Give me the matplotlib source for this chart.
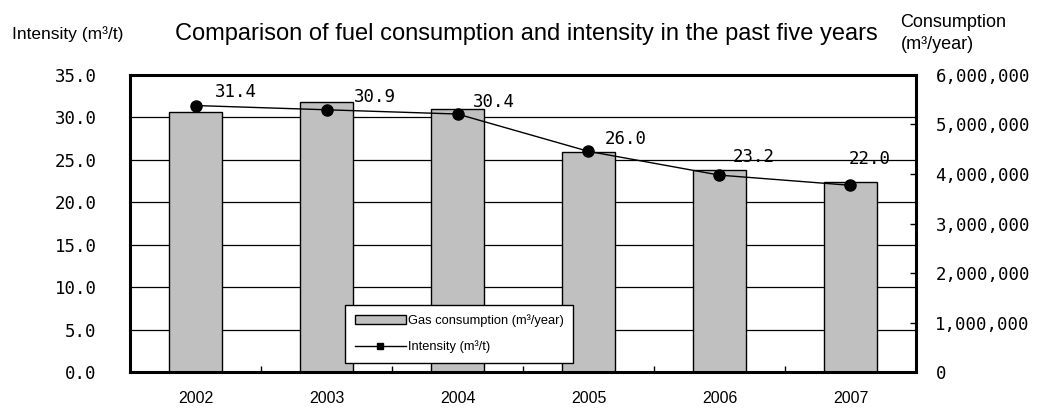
import matplotlib
matplotlib.use("Agg")
import matplotlib.pyplot as plt
import matplotlib.transforms as mtransforms
from matplotlib.patches import Patch
from matplotlib.lines import Line2D
from matplotlib.ticker import FuncFormatter

years = ["2002", "2003", "2004", "2005", "2006", "2007"]
consumption = [5250000, 5450000, 5310000, 4440000, 4080000, 3840000]  # m3/year
intensity = [31.4, 30.9, 30.4, 26.0, 23.2, 22.0]  # m3/t
left_ticks = [0, 5, 10, 15, 20, 25, 30, 35]
right_ticks = [0, 1000000, 2000000, 3000000, 4000000, 5000000, 6000000]

# where each value label sits relative to its point (points)
label_offsets = [(29, 10), (35, 9), (26, 9), (27, 9), (25, 13), (14, 19)]

plt.rcParams["font.family"] = ["Liberation Sans", "DejaVu Sans"]
num_font = {"family": "DejaVu Sans Mono", "size": 12.5}

fig = plt.figure(figsize=(10.46, 4.08), dpi=100)
ax = fig.add_axes([0.1243, 0.0882, 0.7514, 0.728])
ax2 = ax.twinx()

x = list(range(len(years)))

# consumption bars on the base axes (right scale)
ax.bar(x, consumption, width=0.41, color="#c0c0c0", edgecolor="black",
       linewidth=1, zorder=2)
ax.set_ylim(0, 6000000)
ax.set_xlim(-0.5, len(years) - 0.5)
ax.yaxis.tick_right()
ax.set_yticks(right_ticks)
ax.yaxis.set_major_formatter(FuncFormatter(lambda v, p: f"{int(v):,}"))
ax.tick_params(axis="y", direction="in", length=4, width=1, pad=14)
for lbl in ax.get_yticklabels():
    lbl.set_fontfamily(num_font["family"])
    lbl.set_fontsize(num_font["size"])

ax.set_xticks(x)
ax.set_xticklabels(years, fontsize=11.5)
ax.tick_params(axis="x", length=0, pad=14)
ax.set_xticks([i + 0.5 for i in x[:-1]], minor=True)
ax.tick_params(axis="x", which="minor", direction="in", length=4, width=1)

# horizontal gridlines at intensity ticks, kept under the bars
grid_tf = mtransforms.blended_transform_factory(ax.transAxes, ax2.transData)
ax.hlines(left_ticks[1:-1], 0, 1, transform=grid_tf, color="black",
          linewidth=0.9, zorder=1)

for side in ["top", "bottom", "left", "right"]:
    ax.spines[side].set_linewidth(2.2)
    ax2.spines[side].set_visible(False)

# intensity line on the twin axes (left scale)
ax2.plot(x, intensity, color="black", linewidth=1, marker="o", markersize=8,
         zorder=3)
ax2.set_ylim(0, 35)
ax2.yaxis.tick_left()
ax2.set_yticks(left_ticks)
ax2.set_yticklabels([f"{v:.1f}" for v in left_ticks])
ax2.tick_params(axis="y", length=0, pad=24)
for lbl in ax2.get_yticklabels():
    lbl.set_fontfamily(num_font["family"])
    lbl.set_fontsize(num_font["size"])

for xi, val, off in zip(x, intensity, label_offsets):
    ax2.annotate(f"{val:.1f}", (xi, val), xytext=off, textcoords="offset points",
                 ha="center", va="center", fontfamily=num_font["family"],
                 fontsize=num_font["size"])

handles = [
    Patch(facecolor="#c0c0c0", edgecolor="black", linewidth=1),
    Line2D([], [], color="black", linewidth=1, marker="s", markersize=5),
]
leg = ax2.legend(handles, ["Gas consumption (m³/year)", "Intensity (m³/t)"],
                 loc="lower left", bbox_to_anchor=(0.2735, 0.03),
                 borderaxespad=0, fontsize=9.3, frameon=True, fancybox=False,
                 framealpha=1, edgecolor="black", handlelength=4.0,
                 handleheight=0.7, handletextpad=0.1, labelspacing=1.05,
                 borderpad=0.75)
leg.get_frame().set_linewidth(1)

fig.text(0.503, 0.917, "Comparison of fuel consumption and intensity in the past five years",
         ha="center", va="center", fontsize=17)
fig.text(0.011, 0.917, "Intensity (m³/t)", ha="left", va="center", fontsize=12.5)
fig.text(0.861, 0.946, "Consumption", ha="left", va="center", fontsize=13)
fig.text(0.861, 0.892, "(m³/year)", ha="left", va="center", fontsize=13)

fig.savefig("out.png", dpi=100)
